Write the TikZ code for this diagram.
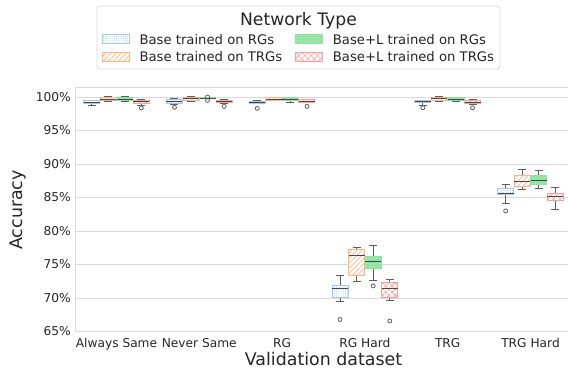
\documentclass[tikz,border=0pt]{standalone}
\usepackage{fontspec}
\setmainfont{DejaVu Sans}
\usetikzlibrary{patterns.meta}

\definecolor{pblue}{HTML}{A1C9F4}
\definecolor{porange}{HTML}{FFB482}
\definecolor{pgreen}{HTML}{8DE5A1}
\definecolor{pred}{HTML}{FF9F9B}
\definecolor{gridc}{HTML}{DADADA}
\definecolor{whiskc}{HTML}{5F5F5F}
\definecolor{medc}{HTML}{474747}
\definecolor{txt}{HTML}{262626}

\tikzset{
  hue0/.style={fill=white, postaction={pattern={Dots[distance=2.2pt,radius=0.5pt]}, pattern color=pblue}},
  hue1/.style={fill=white, postaction={pattern={Lines[angle=45,distance=3.6pt,line width=0.7pt]}, pattern color=porange}},
  hue2/.style={fill=pgreen, postaction={pattern={Dots[distance=2.6pt,radius=0.5pt]}, pattern color=pgreen!45!white}},
  hue3/.style={fill=white, postaction={pattern={Hatch[angle=45,distance=4.4pt,line width=0.6pt]}, pattern color=pred}},
  edge0/.style={draw=pblue, line width=0.9pt},
  edge1/.style={draw=porange, line width=0.9pt},
  edge2/.style={draw=pgreen, line width=0.9pt},
  edge3/.style={draw=pred, line width=0.9pt},
  whisk/.style={draw=whiskc, line width=1pt},
  medln/.style={draw=medc, line width=1pt},
  flierc/.style={draw=whiskc, line width=0.8pt},
  gridln/.style={draw=gridc, line width=0.9pt},
  ticklbl/.style={text=txt, font=\fontsize{12.2}{14}\selectfont, inner sep=0pt},
  axlbl/.style={text=txt, font=\fontsize{17.4}{20}\selectfont, inner sep=0pt},
  legtxt/.style={text=txt, font=\fontsize{13.2}{15}\selectfont, inner sep=0pt, anchor=base west},
}

% one box: group, hue, q1, q3, median, lower whisker, upper whisker
\newcommand\bxplot[7]{%
  \pgfmathsetmacro\bxc{116.5+82.8*#1+16.56*(#2-1.5)}%
  \draw[whisk] (\bxc,#4) -- (\bxc,#7) (\bxc-4,#7) -- (\bxc+4,#7);
  \draw[whisk] (\bxc,#3) -- (\bxc,#6) (\bxc-4,#6) -- (\bxc+4,#6);
  \path[hue#2] (\bxc-8,#3) rectangle (\bxc+8,#4);
  \draw[edge#2] (\bxc-8,#3) rectangle (\bxc+8,#4);
  \draw[medln] (\bxc-8,#5) -- (\bxc+8,#5);
}
% one outlier: group, hue, value
\newcommand\flr[3]{%
  \pgfmathsetmacro\bxc{116.5+82.8*#1+16.56*(#2-1.5)}%
  \draw[flierc] (\bxc,#3) circle (2pt);
}

\begin{document}
\begin{tikzpicture}[x=1pt,y=-1pt]
\useasboundingbox (0,0) rectangle (568,373);
\fill[white] (0,0) rectangle (568,373);

% data area: value v sits at 767 - 6.7 v from the top
\begin{scope}[y=6.7pt, yshift=-767pt]
  \clip (0,60) rectangle (568,103);
  \foreach \v in {65,70,...,100} {
    \draw[gridln] (75.5,\v) -- (568,\v);
  }
  \draw[gridln] (75.5,101.5) -- (568,101.5);
  \draw[gridln] (75.5,65) -- (75.5,101.5);

  % Always Same
  \bxplot{0}{0}{99.0}{99.45}{99.2}{98.7}{99.5}
  \bxplot{0}{1}{99.55}{99.9}{99.7}{99.36}{100.05}
  \bxplot{0}{2}{99.45}{99.95}{99.7}{99.35}{100.05}
  \bxplot{0}{3}{99.1}{99.5}{99.3}{98.8}{99.7}
  \flr{0}{3}{98.36}
  % Never Same
  \bxplot{1}{0}{99.06}{99.6}{99.3}{98.9}{99.8}
  \flr{1}{0}{98.46}
  \bxplot{1}{1}{99.55}{99.95}{99.75}{99.4}{100.1}
  \bxplot{1}{2}{99.8}{99.9}{99.85}{99.75}{99.95}
  \flr{1}{2}{100.0}
  \flr{1}{2}{99.5}
  \bxplot{1}{3}{99.15}{99.55}{99.35}{99.0}{99.6}
  \flr{1}{3}{98.6}
  % RG
  \bxplot{2}{0}{99.06}{99.4}{99.2}{99.0}{99.45}
  \flr{2}{0}{98.3}
  \bxplot{2}{1}{99.5}{99.9}{99.7}{99.45}{99.95}
  \bxplot{2}{2}{99.5}{99.9}{99.7}{99.2}{100.0}
  \bxplot{2}{3}{99.2}{99.65}{99.4}{99.15}{99.7}
  \flr{2}{3}{98.6}
  % RG Hard
  \bxplot{3}{0}{70.1}{71.84}{71.45}{69.55}{73.3}
  \flr{3}{0}{66.8}
  \bxplot{3}{1}{73.33}{77.27}{76.3}{72.5}{77.57}
  \bxplot{3}{2}{74.43}{76.2}{75.5}{72.6}{77.9}
  \flr{3}{2}{71.8}
  \bxplot{3}{3}{70.1}{72.34}{71.45}{69.66}{72.8}
  \flr{3}{3}{66.57}
  % TRG
  \bxplot{4}{0}{99.2}{99.45}{99.3}{98.8}{99.55}
  \flr{4}{0}{98.4}
  \bxplot{4}{1}{99.55}{99.95}{99.75}{99.4}{100.15}
  \bxplot{4}{2}{99.45}{99.9}{99.7}{99.3}{100.0}
  \bxplot{4}{3}{99.06}{99.45}{99.25}{98.9}{99.65}
  \flr{4}{3}{98.4}
  % TRG Hard
  \bxplot{5}{0}{85.42}{86.42}{85.67}{84.13}{87.0}
  \flr{5}{0}{83.0}
  \bxplot{5}{1}{86.6}{88.31}{87.46}{86.2}{89.25}
  \bxplot{5}{2}{87.0}{88.31}{87.5}{86.3}{89.1}
  \bxplot{5}{3}{84.63}{85.63}{85.22}{83.24}{86.52}

  % bottom spine
  \draw[gridln] (75.5,65) -- (568,65);
\end{scope}

% y tick labels
\begin{scope}[y=6.7pt, yshift=-767pt]
  \foreach \v in {65,70,...,100} {
    \node[ticklbl, anchor=east] (yt\v) at (71,\v) {\v\%};
  }
\end{scope}

% x tick labels
\foreach \name [count=\i from 0] in {Always Same,Never Same,RG,RG Hard,TRG,TRG Hard} {
  \node[ticklbl, anchor=base] (xt\i) at ({116.5+82.8*\i},347.3) {\name};
}

% axis titles
\node[axlbl, anchor=base] (xlab) at (323.5,365) {Validation dataset};
\node[axlbl, anchor=base, rotate=90] (ylab) at (22.5,210) {Accuracy};

% legend
\draw[gridc, line width=0.8pt, rounded corners=3pt, fill=white] (97,6) rectangle (500,69);
\node[text=txt, font=\fontsize{17.2}{20}\selectfont, inner sep=0pt, anchor=base] (legtitle) at (298.5,25.7) {Network Type};

\path[hue0] (102,34.5) rectangle (129,43.5);
\draw[edge0, line width=0.6pt] (102,34.5) rectangle (129,43.5);
\node[legtxt] (leg0) at (139.3,44) {Base trained on RGs};

\path[hue1] (102,52) rectangle (129,61);
\draw[edge1, line width=0.6pt] (102,52) rectangle (129,61);
\node[legtxt] (leg1) at (139.3,61) {Base trained on TRGs};

\path[hue2] (295.5,34.5) rectangle (322.5,43.5);
\draw[edge2, line width=0.6pt] (295.5,34.5) rectangle (322.5,43.5);
\node[legtxt] (leg2) at (332.7,44) {Base+L trained on RGs};

\path[hue3] (295.5,52) rectangle (322.5,61);
\draw[edge3, line width=0.6pt] (295.5,52) rectangle (322.5,61);
\node[legtxt] (leg3) at (332.7,61) {Base+L trained on TRGs};
\end{tikzpicture}
\end{document}
